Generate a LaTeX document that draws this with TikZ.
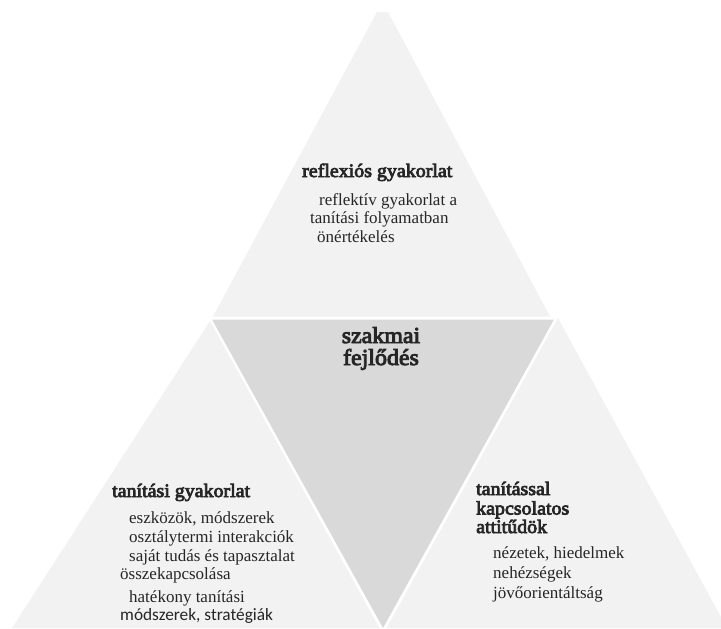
\documentclass[tikz,border=0pt]{standalone}
\usepackage{fontspec}
\setmainfont{Liberation Serif}
\newfontfamily\serifbold{Liberation Serif}[FakeBold=4,FakeStretch=1.05]
\newfontfamily\calibrifont{Carlito}
\definecolor{outerfill}{HTML}{F2F2F2}
\definecolor{innerfill}{HTML}{D9D9D9}
\definecolor{txt}{HTML}{262626}
\begin{document}
\begin{tikzpicture}[x=1pt,y=-1pt,
  outer/.style={fill=outerfill,draw=none},
  inner/.style={fill=innerfill,draw=none},
  head/.style={anchor=base west,inner sep=0pt,text=txt,font=\serifbold\fontsize{19}{21}\selectfont},
  item/.style={anchor=base west,inner sep=0pt,text=txt,font=\fontsize{17}{18.5}\selectfont},
  sansitem/.style={anchor=base west,inner sep=0pt,text=txt,font=\calibrifont\fontsize{17.3}{18.5}\selectfont},
  centerhead/.style={anchor=base,inner sep=0pt,text=txt,font=\serifbold\fontsize{22.8}{24}\selectfont}]
\useasboundingbox (0,0) rectangle (721,629);
\begin{scope}
\clip (0,0) rectangle (721,629);
% top triangle
\fill[outer] (377,12) -- (388,12) -- (550,316.5) -- (213,316.5) -- cycle;
% center inverted triangle
\fill[inner] (212,319.5) -- (554,319.5) -- (383,628) -- cycle;
% left triangle
\fill[outer] (210,321) -- (379.5,628) -- (12,628) -- cycle;
% right triangle
\fill[outer] (558,318) -- (727,628) -- (386.5,628) -- cycle;
\end{scope}
% top texts
\node[head] (th) at (302,177) {reflexiós gyakorlat};
\node[item] (t1) at (319,205) {reflektív gyakorlat a};
\node[item] (t2) at (310,223.5) {tanítási folyamatban};
\node[item] (t3) at (317,242) {önértékelés};
% center
\node[centerhead] (c1) at (381,343) {szakmai};
\node[centerhead] (c2) at (381,365) {fejlődés};
% left texts
\node[head] (lh) at (112,497) {tanítási gyakorlat};
\node[item] (l1) at (129,523) {eszközök, módszerek};
\node[item] (l2) at (129,542) {osztálytermi interakciók};
\node[item] (l3) at (129,561) {saját tudás és tapasztalat};
\node[item] (l4) at (120,579.5) {összekapcsolása};
\node[item] (l5) at (129,602) {hatékony tanítási};
\node[sansitem] (l6) at (120,620) {módszerek, stratégiák};
% right texts
\node[head] (rh1) at (476,495) {tanítással};
\node[head] (rh2) at (476,514.5) {kapcsolatos};
\node[head] (rh3) at (476,533) {attitűdök};
\node[item] (r1) at (493,558) {nézetek, hiedelmek};
\node[item] (r2) at (493,578) {nehézségek};
\node[item] (r3) at (493,598) {jövőorientáltság};
\end{tikzpicture}
\end{document}
